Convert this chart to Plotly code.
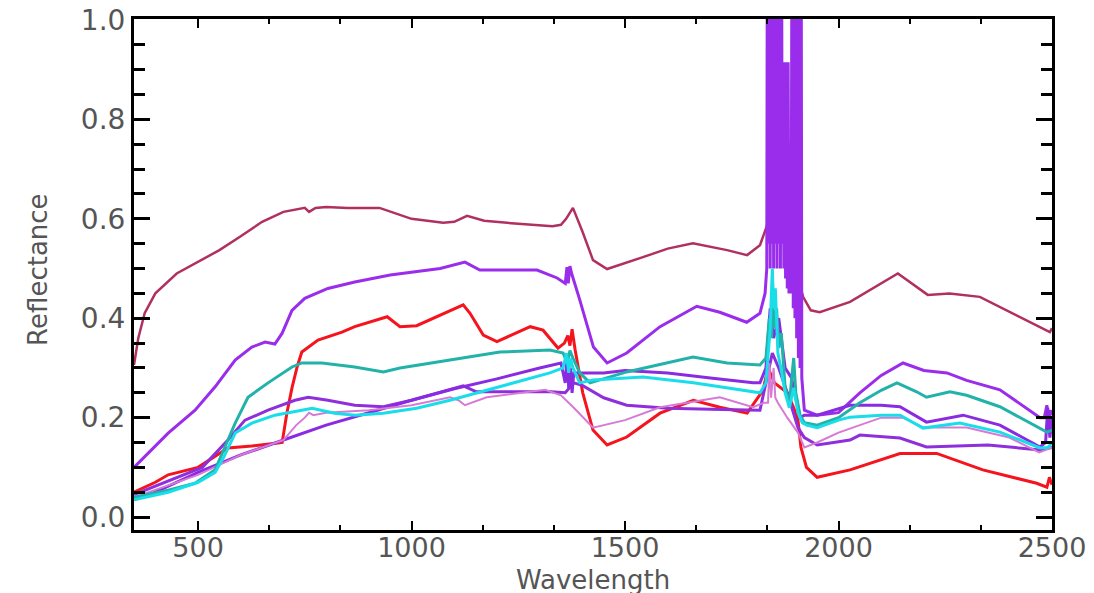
import plotly.graph_objects as go

# ---------------- data ----------------
x_ticks = [500, 1000, 1500, 2000, 2500]
y_ticks = [0.0, 0.2, 0.4, 0.6, 0.8, 1.0]
y_tick_labels = ["0.0", "0.2", "0.4", "0.6", "0.8", "1.0"]

maroon_w = [350, 360, 375, 400, 450, 500, 550, 600, 650, 700, 750, 760, 775, 800, 850, 925,
            1000, 1074, 1100, 1130, 1170, 1250, 1330, 1350, 1362, 1378, 1400, 1425, 1458, 1542,
            1600, 1659, 1739, 1786, 1816, 1832, 1845, 1860, 1880, 1900, 1917, 1935, 1956, 2027,
            2100, 2139, 2209, 2260, 2331, 2378, 2464, 2480, 2495, 2500]
maroon_r = [0.306, 0.36, 0.41, 0.45, 0.49, 0.513, 0.537, 0.565, 0.594, 0.614, 0.622, 0.614,
            0.622, 0.624, 0.622, 0.622, 0.600, 0.592, 0.594, 0.606, 0.596, 0.590, 0.585, 0.588,
            0.600, 0.622, 0.575, 0.517, 0.499, 0.523, 0.540, 0.551, 0.537, 0.527, 0.547, 0.585,
            0.65, 0.62, 0.58, 0.50, 0.443, 0.416, 0.412, 0.433, 0.47, 0.49, 0.447, 0.45, 0.443,
            0.423, 0.386, 0.38, 0.372, 0.38]

upper_w = [350, 430, 493, 540, 587, 626, 657, 680, 697, 720, 750, 804, 867, 950, 1067, 1125,
           1160, 1294, 1341, 1360, 1364, 1367, 1371, 1375, 1394, 1426, 1458, 1504, 1582, 1668,
           1722, 1785, 1816, 1828,
           1832, 1834, 1836, 1838, 1840, 1842, 1844, 1846, 1848, 1850, 1852, 1854, 1856, 1858,
           1860, 1862, 1864, 1866, 1868, 1870, 1872, 1874, 1876, 1878, 1880, 1882, 1884, 1886,
           1889, 1892, 1894, 1896, 1898, 1900, 1902, 1904, 1906, 1908, 1910, 1912, 1914, 1916,
           1920, 1950, 2000, 2050, 2100, 2151, 2200, 2254, 2300, 2378, 2472, 2482, 2488, 2492,
           2496, 2500]
upper_r = [0.10, 0.169, 0.215, 0.262, 0.316, 0.342, 0.352, 0.348, 0.370, 0.416, 0.44, 0.46,
           0.473, 0.487, 0.50, 0.513, 0.497, 0.497, 0.481, 0.47, 0.503, 0.47, 0.505, 0.49,
           0.437, 0.342, 0.31, 0.33, 0.383, 0.424, 0.412, 0.392, 0.41, 0.45,
           0.50, 1.60, 0.55, 1.60, 0.50, 1.60, 0.55, 1.60, 0.50, 1.60, 0.55, 1.60, 0.50, 1.60,
           0.55, 1.60, 0.50, 1.60, 0.55, 0.915, 0.50, 0.915, 0.48, 0.915, 0.46, 0.915, 0.45, 0.50,
           0.45, 1.60, 0.42, 1.60, 0.40, 1.60, 0.36, 1.60, 0.32, 1.60, 0.30, 1.60, 0.28, 0.25,
           0.215, 0.205, 0.21, 0.25, 0.285, 0.31, 0.295, 0.29, 0.275, 0.256, 0.20, 0.20, 0.225,
           0.19, 0.215, 0.205]

red_w = [350, 400, 430, 500, 570, 626, 687, 697, 708, 720, 732, 743, 781, 837, 867, 943, 973,
         1012, 1121, 1137, 1168, 1200, 1278, 1308, 1343, 1358, 1366, 1371, 1376, 1383, 1401,
         1425, 1458, 1504, 1582, 1660, 1722, 1786, 1823, 1835, 1850, 1865, 1880, 1895, 1905,
         1912, 1925, 1950, 2000, 2027, 2144, 2230, 2338, 2464, 2488, 2494, 2500]
red_r = [0.05, 0.07, 0.085, 0.10, 0.139, 0.143, 0.149, 0.15, 0.209, 0.26, 0.302, 0.332, 0.356,
         0.372, 0.383, 0.403, 0.383, 0.385, 0.427, 0.41, 0.366, 0.353, 0.383, 0.376, 0.34, 0.35,
         0.365, 0.345, 0.378, 0.337, 0.25, 0.175, 0.145, 0.161, 0.209, 0.235, 0.221, 0.209,
         0.255, 0.30, 0.27, 0.26, 0.25, 0.22, 0.195, 0.14, 0.10, 0.08, 0.09, 0.095, 0.128,
         0.128, 0.095, 0.068, 0.06, 0.08, 0.065]

teal_w = [350, 430, 493, 540, 570, 587, 617, 664, 720, 743, 790, 867, 934, 973, 1090, 1207,
          1324, 1355, 1365, 1371, 1378, 1394, 1418, 1504, 1659, 1739, 1816, 1830, 1838, 1843,
          1846, 1850, 1855, 1860, 1866, 1875, 1885, 1895, 1900, 1910, 1920, 1950, 2000, 2050,
          2100, 2137, 2183, 2206, 2261, 2300, 2378, 2464, 2488, 2500]
teal_r = [0.04, 0.054, 0.068, 0.095, 0.155, 0.189, 0.241, 0.27, 0.302, 0.31, 0.31, 0.302,
          0.292, 0.30, 0.316, 0.332, 0.336, 0.33, 0.31, 0.335, 0.32, 0.29, 0.27, 0.292, 0.322,
          0.31, 0.306, 0.32, 0.40, 0.36, 0.43, 0.38, 0.42, 0.34, 0.37, 0.26, 0.23, 0.32, 0.25,
          0.205, 0.19, 0.185, 0.20, 0.23, 0.255, 0.27, 0.252, 0.241, 0.252, 0.245, 0.222,
          0.181, 0.171, 0.175]

cyan_w = [350, 430, 500, 540, 560, 587, 626, 680, 743, 767, 820, 867, 934, 1012, 1090, 1207,
          1324, 1355, 1363, 1368, 1372, 1378, 1394, 1425, 1542, 1660, 1816, 1830, 1840, 1845,
          1848, 1852, 1858, 1865, 1875, 1885, 1895, 1905, 1915, 1925, 1950, 2000, 2027, 2100,
          2144, 2198, 2284, 2378, 2472, 2490, 2500]
cyan_r = [0.035, 0.05, 0.07, 0.09, 0.12, 0.169, 0.189, 0.205, 0.215, 0.219, 0.209, 0.205,
          0.209, 0.219, 0.235, 0.262, 0.29, 0.30, 0.33, 0.29, 0.32, 0.30, 0.27, 0.276, 0.282,
          0.27, 0.25, 0.27, 0.38, 0.50, 0.42, 0.46, 0.33, 0.30, 0.25, 0.22, 0.26, 0.21, 0.19,
          0.185, 0.18, 0.195, 0.201, 0.205, 0.205, 0.179, 0.189, 0.171, 0.139, 0.14, 0.149]

purple_a_w = [350, 400, 500, 600, 700, 800, 900, 1000, 1100, 1200, 1300, 1350, 1360, 1365,
              1368, 1372, 1376, 1380, 1400, 1450, 1500, 1600, 1700, 1800, 1816, 1830, 1840,
              1848, 1860, 1875, 1890, 1900, 1910, 1920, 1950, 2027, 2100, 2144, 2206, 2292,
              2378, 2472, 2485, 2490, 2495, 2500]
purple_a_r = [0.035, 0.05, 0.09, 0.125, 0.155, 0.185, 0.21, 0.235, 0.258, 0.278, 0.30, 0.31,
              0.27, 0.33, 0.26, 0.30, 0.25, 0.29, 0.29, 0.29, 0.295, 0.29, 0.28, 0.27, 0.27,
              0.30, 0.42, 0.36, 0.40, 0.30, 0.28, 0.24, 0.20, 0.205, 0.205, 0.225, 0.225,
              0.222, 0.191, 0.205, 0.185, 0.141, 0.15, 0.22, 0.16, 0.20]

purple_b_w = [350, 450, 510, 570, 610, 664, 727, 758, 804, 867, 934, 1000, 1060, 1121, 1152,
              1250, 1327, 1360, 1380, 1400, 1450, 1504, 1600, 1700, 1800, 1816, 1830, 1845,
              1860, 1880, 1905, 1920, 1950, 2027, 2050, 2144, 2206, 2350, 2472, 2500]
purple_b_r = [0.045, 0.08, 0.10, 0.155, 0.195, 0.215, 0.235, 0.241, 0.235, 0.225, 0.222,
              0.235, 0.25, 0.264, 0.252, 0.252, 0.252, 0.25, 0.27, 0.265, 0.24, 0.225, 0.219,
              0.217, 0.215, 0.215, 0.27, 0.33, 0.30, 0.25, 0.18, 0.16, 0.145, 0.155, 0.165,
              0.159, 0.141, 0.145, 0.135, 0.14]

orchid_w = [350, 500, 600, 700, 730, 750, 760, 770, 800, 900, 1000, 1090, 1110, 1125, 1176,
            1313, 1350, 1380, 1425, 1500, 1582, 1722, 1800, 1825, 1835, 1838, 1842, 1848, 1852,
            1858, 1880, 1905, 1920, 1950, 2000, 2050, 2100, 2150, 2200, 2300, 2400, 2470, 2500]
orchid_r = [0.04, 0.085, 0.125, 0.155, 0.185, 0.20, 0.21, 0.205, 0.21, 0.215, 0.225, 0.241,
            0.235, 0.225, 0.241, 0.256, 0.245, 0.22, 0.18, 0.195, 0.221, 0.241, 0.221, 0.23,
            0.23, 0.31, 0.24, 0.30, 0.24, 0.23, 0.20, 0.17, 0.14, 0.15, 0.17, 0.185, 0.20,
            0.20, 0.18, 0.18, 0.16, 0.13, 0.14]

# ---------------- styles ----------------
series = [
    (maroon_w, maroon_r, "#B03060", 2.5),
    (upper_w, upper_r, "#9A2DEB", 3),
    (red_w, red_r, "#F5141E", 3),
    (purple_b_w, purple_b_r, "#8F2FDC", 3),
    (purple_a_w, purple_a_r, "#8A2BE2", 3),
    (orchid_w, orchid_r, "#D67AD6", 2),
    (teal_w, teal_r, "#22B2AA", 3),
    (cyan_w, cyan_r, "#19DDE8", 3),
]

fig = go.Figure()
for w, r, col, lw in series:
    fig.add_trace(go.Scatter(x=w, y=r, mode="lines",
                             line=dict(color=col, width=lw), showlegend=False,
                             hoverinfo="skip"))

x_tick_font = dict(family="DejaVu Sans", size=27, color="#555555")
y_tick_font = dict(family="DejaVu Sans", size=28, color="#555555")
title_font = dict(family="DejaVu Sans", size=26, color="#555555")

fig.update_layout(
    width=1094, height=593,
    margin=dict(l=126, r=50, t=11, b=71),
    paper_bgcolor="white", plot_bgcolor="white",
    xaxis=dict(range=[350, 2500], tickmode="array", tickvals=x_ticks, automargin=False,
               ticklabeloverflow="allow", ticklabelstandoff=-8,
               ticks="inside", ticklen=9, tickwidth=2, tickcolor="black",
               showline=True, linewidth=3, linecolor="black", mirror="allticks",
               showgrid=False, zeroline=False, tickfont=x_tick_font,
               minor=dict(tick0=500, dtick=500 / 3, ticks="inside", ticklen=5,
                          tickwidth=2, tickcolor="black", showgrid=False)),
    yaxis=dict(range=[-0.026, 1.002], tickmode="array", tickvals=y_ticks, automargin=False,
               ticktext=y_tick_labels, ticklabeloverflow="allow",
               ticks="inside", ticklen=16, tickwidth=2.5, tickcolor="black",
               showline=True, linewidth=3, linecolor="black", mirror="allticks",
               showgrid=False, zeroline=False, tickfont=y_tick_font,
               minor=dict(tick0=0, dtick=0.05, ticks="inside", ticklen=11,
                          tickwidth=2.5, tickcolor="black", showgrid=False)),
    annotations=[
        dict(text="Wavelength", xref="paper", yref="paper", x=0.5, y=-0.098,
             xanchor="center", yanchor="middle", showarrow=False, font=title_font),
        dict(text="Reflectance", xref="paper", yref="paper", x=-0.1046, y=0.509,
             xanchor="center", yanchor="middle", textangle=-90, showarrow=False,
             font=title_font),
    ],
)

fig.write_html("out.html")
